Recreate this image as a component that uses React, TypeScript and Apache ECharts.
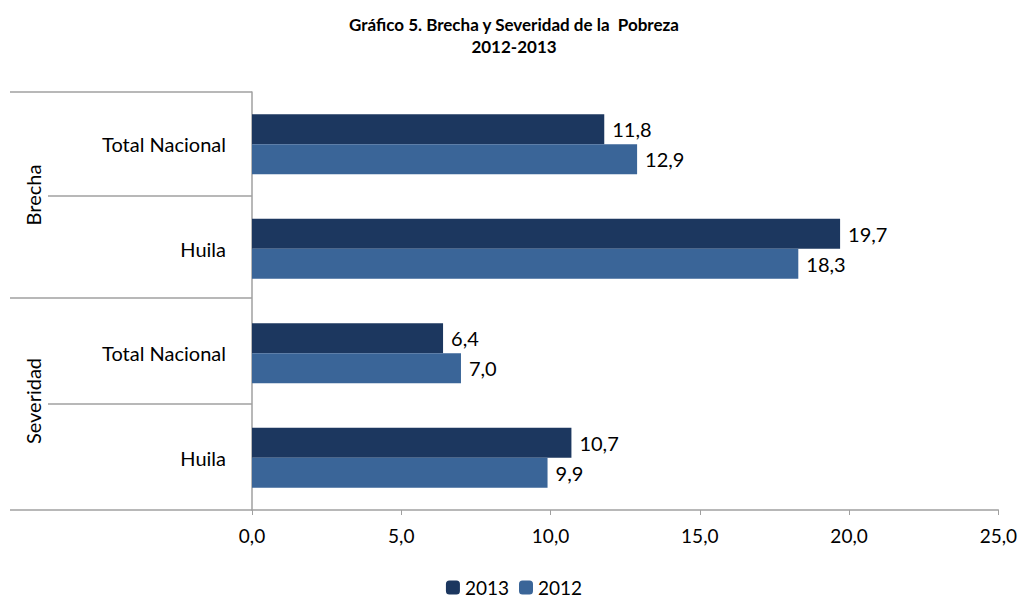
import { useRef, useEffect } from 'react';
import * as echarts from 'echarts';

// bottom-to-top order
const categories = ['Huila', 'Total Nacional', 'Huila', 'Total Nacional'];
const values2012 = [9.9, 7.0, 18.3, 12.9];
const values2013 = [10.7, 6.4, 19.7, 11.8];
const xTicks = { min: 0, max: 25, interval: 5 };

const FONT = 'Lato, "Open Sans", sans-serif';
const fmt = (v: number) => v.toFixed(1).replace('.', ',');

export default function App() {
  const ref = useRef<HTMLDivElement>(null);

  useEffect(() => {
    if (!ref.current) return;
    const chart = echarts.init(ref.current, undefined, { renderer: 'svg' });
    const lineStyle = { stroke: '#a0a0a0', lineWidth: 1.5 };
    const hline = (x1: number, y: number) => ({
      type: 'line',
      shape: { x1, y1: y, x2: 244, y2: y },
      style: lineStyle,
    });
    const barLabel = { show: true, position: 'right', formatter: (p: any) => fmt(p.value), fontSize: 20, color: '#000', distance: 8 };
    chart.setOption({
      animation: false,
      textStyle: { fontFamily: FONT },
      title: {
        text: 'Gráfico 5. Brecha y Severidad de la  Pobreza\n2012-2013',
        left: 'center',
        top: 0,
        textStyle: { fontSize: 17, fontWeight: 'bold', color: '#000', lineHeight: 22, fontFamily: FONT },
      },
      legend: {
        data: ['2013', '2012'],
        bottom: 0,
        left: 'center',
        itemWidth: 14,
        itemHeight: 14,
        itemGap: 10,
        textStyle: { fontSize: 19, color: '#000', fontFamily: FONT },
      },
      grid: { left: 244, right: 10, top: 84, bottom: 92 },
      xAxis: {
        type: 'value',
        ...xTicks,
        splitLine: { show: false },
        axisLine: { show: true, lineStyle: { color: '#a0a0a0', width: 1.5 } },
        axisTick: { show: true, length: 5, lineStyle: { color: '#a0a0a0' } },
        axisLabel: { formatter: fmt, fontSize: 19, color: '#000', margin: 16 },
      },
      yAxis: {
        type: 'category',
        data: categories,
        axisLine: { lineStyle: { color: '#a0a0a0', width: 1.5 } },
        axisTick: { show: false },
        axisLabel: { fontSize: 20, color: '#000', margin: 26 },
      },
      series: [
        {
          name: '2013',
          type: 'bar',
          data: values2013,
          barWidth: 30,
          barGap: '0%',
          itemStyle: { color: '#1c375f' },
          label: barLabel,
        },
        {
          name: '2012',
          type: 'bar',
          data: values2012,
          barWidth: 30,
          itemStyle: { color: '#3a6598' },
          label: barLabel,
        },
      ],
      graphic: [
        hline(2, 84),
        hline(40, 188),
        hline(2, 290),
        hline(40, 396),
        hline(2, 502),
        {
          type: 'text',
          x: 25,
          y: 187,
          rotation: Math.PI / 2,
          style: { text: 'Brecha', fontSize: 20, fill: '#000', fontFamily: FONT, align: 'center', verticalAlign: 'middle' },
        },
        {
          type: 'text',
          x: 25,
          y: 393,
          rotation: Math.PI / 2,
          style: { text: 'Severidad', fontSize: 20, fill: '#000', fontFamily: FONT, align: 'center', verticalAlign: 'middle' },
        },
      ],
    });
    return () => chart.dispose();
  }, []);

  return <div ref={ref} style={{ width: 1012, height: 594 }} />;
}
